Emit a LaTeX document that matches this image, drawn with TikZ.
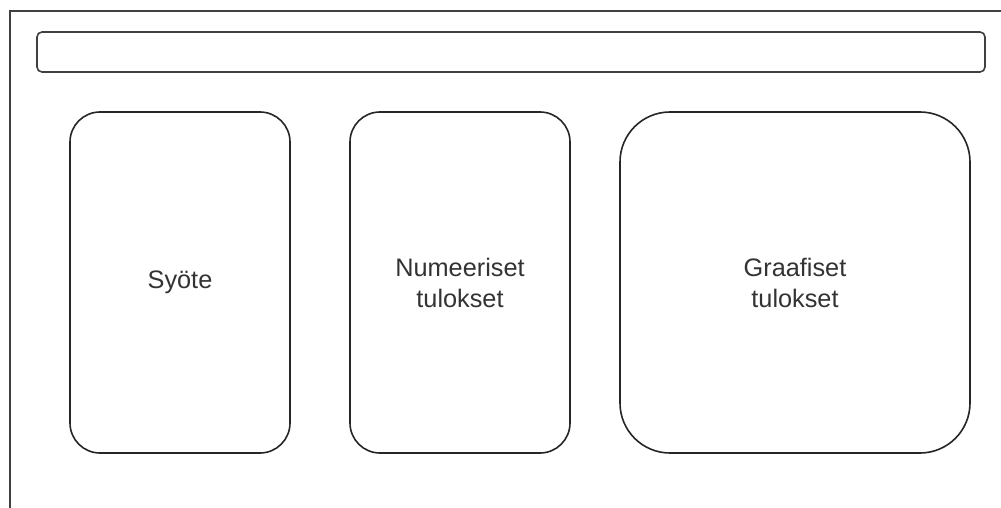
\documentclass[tikz,border=0pt]{standalone}
\usepackage{fontspec}
\setmainfont{Liberation Sans}
\begin{document}
\begin{tikzpicture}[x=1pt,y=-1pt,
  panel/.style={draw=black!85, line width=1.6pt, fill=white, text=black!80,
    align=center, font=\fontsize{25.3}{31}\selectfont, inner sep=0pt},
]
\useasboundingbox (0,0) rectangle (1001,508);
\clip (0,0) rectangle (1001,508);
\fill[white] (0,0) rectangle (1001,508);
\draw[black!75, line width=1.8pt] (10,11) rectangle (1012,520);
\draw[black!75, line width=1.6pt, rounded corners=5pt] (37,32) rectangle (985,72);
\node[panel, rounded corners=30pt, minimum width=220pt, minimum height=341pt] (syote) at (180,282.5) {Syöte};
\node[panel, rounded corners=30pt, minimum width=220pt, minimum height=341pt] (num) at (460,282.5) {Numeeriset\\tulokset};
\node[panel, rounded corners=50pt, minimum width=350pt, minimum height=341pt] (graf) at (795,282.5) {Graafiset\\tulokset};
\end{tikzpicture}
\end{document}
